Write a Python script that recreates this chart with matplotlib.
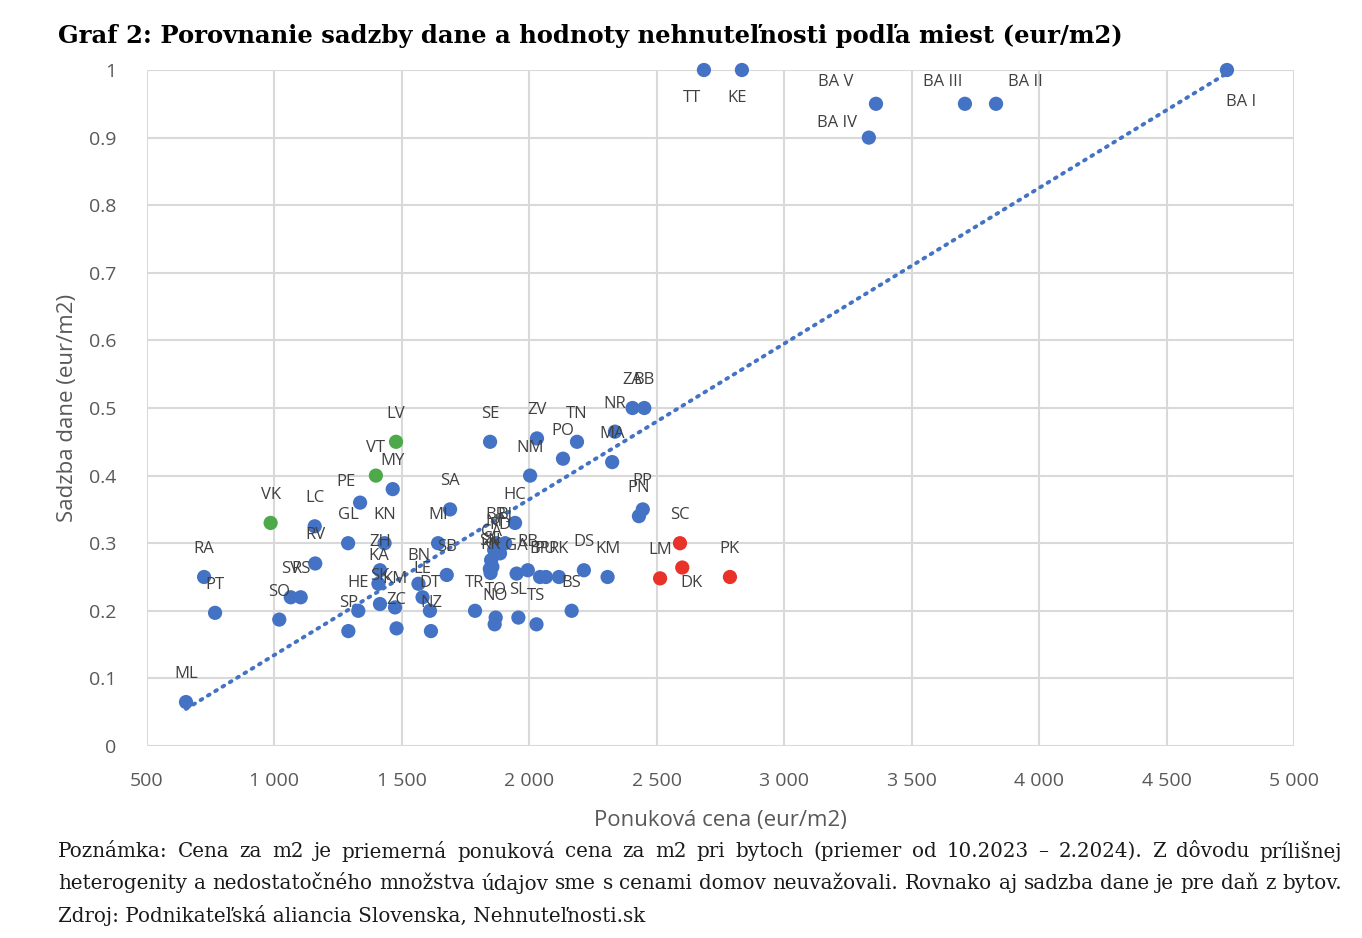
import numpy as np
import matplotlib.pyplot as plt
from matplotlib.ticker import FuncFormatter, MultipleLocator

# mestá: ponuková cena (eur/m2) a sadzba dane (eur/m2)
mesta = ['ML', 'RA', 'PT', 'VK', 'SO', 'SV', 'RS', 'LC', 'RV', 'GL',
         'PE', 'VT', 'LV', 'MY', 'KN', 'ZH', 'KA', 'SK', 'KM', 'HE',
         'SP', 'ZC', 'BN', 'LE', 'DT', 'NZ', 'MI', 'SA', 'SB', 'TR',
         'TO', 'NO', 'SL', 'TS', 'BS', 'GA', 'RB', 'BP', 'PU', 'RK',
         'DS', 'KM', 'LM', 'SC', 'DK', 'PK', 'HC', 'BR', 'BJ', 'NI',
         'PD', 'CA', 'SL', 'SN', 'KK', 'SE', 'ZV', 'TN', 'PO', 'NM',
         'NR', 'MA', 'ZA', 'BB', 'PP', 'PN', 'TT', 'KE', 'BA V', 'BA IV',
         'BA III', 'BA II', 'BA I']
cena = [653, 724, 767, 985, 1019, 1064, 1103, 1158, 1160, 1289,
        1336, 1398, 1477, 1464, 1432, 1414, 1408, 1414, 1473, 1329,
        1290, 1479, 1565, 1581, 1610, 1614, 1642, 1689, 1676, 1787,
        1868, 1864, 1957, 2028, 2166, 1950, 1994, 2042, 2065, 2116,
        2214, 2307, 2513, 2591, 2600, 2787, 1944, 1870, 1905, 1862,
        1885, 1850, 1855, 1845, 1848, 1846, 2030, 2187, 2132, 2003,
        2336, 2325, 2405, 2451, 2445, 2430, 2685, 2834, 3360, 3332,
        3709, 3831, 4737]
sadzba = [0.065, 0.25, 0.197, 0.33, 0.187, 0.22, 0.22, 0.325, 0.27, 0.30,
          0.36, 0.40, 0.45, 0.38, 0.30, 0.26, 0.24, 0.21, 0.205, 0.20,
          0.17, 0.174, 0.24, 0.22, 0.20, 0.17, 0.30, 0.35, 0.253, 0.20,
          0.19, 0.18, 0.19, 0.18, 0.20, 0.255, 0.26, 0.25, 0.25, 0.25,
          0.26, 0.25, 0.248, 0.30, 0.264, 0.25, 0.33, 0.30, 0.30, 0.29,
          0.285, 0.275, 0.265, 0.262, 0.256, 0.45, 0.455, 0.45, 0.425, 0.40,
          0.465, 0.42, 0.50, 0.50, 0.35, 0.34, 1.0, 1.0, 0.95, 0.90,
          0.95, 0.95, 1.0]
zelene = ['VK', 'VT', 'LV']
cervene = ['LM', 'SC', 'DK', 'PK']

MODRA = '#4472C4'
ZELENA = '#4EA94B'
CERVENA = '#E8322A'

# posuny popiskov v pixeloch (dx, dy), ostatné sú nad bodom
posuny = {'PE': (-14, 21), 'DK': (9, -15), 'TT': (-12, -28), 'KE': (-5, -28),
          'BA V': (-40, 22), 'BA IV': (-32, 15), 'BA III': (-22, 22),
          'BA II': (29, 22), 'BA I': (14, -32)}

fig = plt.figure(figsize=(13.62, 9.38), dpi=100)
ax = fig.add_axes([147 / 1362, 1 - 746 / 938, (1294 - 147) / 1362, (746 - 70) / 938])

x = np.array(cena, dtype=float)
y = np.array(sadzba)
farby = [ZELENA if m in zelene else CERVENA if m in cervene else MODRA for m in mesta]

# lineárny trend
k, q = np.polyfit(x, y, 1)
xt = np.array([x.min(), x.max()])
ax.plot(xt, k * xt + q, linestyle=(0, (0.5, 1.7)), color=MODRA, linewidth=2.8,
        dash_capstyle='round', zorder=2)

ax.scatter(x, y, s=105, c=farby, edgecolors='none', zorder=3, clip_on=False)

for m, xi, yi in zip(mesta, x, y):
    dx, dy = posuny.get(m, (0, 28))
    ax.annotate(m, (xi, yi), xytext=(dx * 0.72, dy * 0.72), textcoords='offset points',
                ha='center', va='center', fontsize=12, color='#404040',
                family='Open Sans', zorder=4)

ax.set_xlim(500, 5000)
ax.set_ylim(0, 1)
ax.xaxis.set_major_locator(MultipleLocator(500))
ax.yaxis.set_major_locator(MultipleLocator(0.1))
ax.xaxis.set_major_formatter(FuncFormatter(lambda v, p: f'{int(v):,}'.replace(',', ' ')))
ax.yaxis.set_major_formatter(FuncFormatter(lambda v, p: '0' if v == 0 else ('1' if v == 1 else f'{v:.1f}')))
ax.grid(True, color='#D9D9D9', linewidth=1.5)
ax.set_axisbelow(True)
for s in ax.spines.values():
    s.set_visible(False)
ax.tick_params(length=0, labelsize=14, labelcolor='#595959', pad=22)
for t in ax.get_xticklabels() + ax.get_yticklabels():
    t.set_family('Open Sans')
ax.tick_params(axis='x', pad=19)

ax.set_xlabel('Ponuková cena (eur/m2)', fontsize=16, color='#595959', family='Open Sans', labelpad=14)
ax.set_ylabel('Sadzba dane (eur/m2)', fontsize=16, color='#595959', family='Open Sans', labelpad=8)

fig.text(58 / 1362, 1 - 36 / 938,
         'Graf 2: Porovnanie sadzby dane a hodnoty nehnuteľnosti podľa miest (eur/m2)',
         ha='left', va='center', fontsize=17.5, fontweight='bold', family='DejaVu Serif',
         color='black')

poznamka = [
    'Poznámka: Cena za m2 je priemerná ponuková cena za m2 pri bytoch (priemer od 10.2023 – 2.2024). Z dôvodu prílišnej',
    'heterogenity a nedostatočného množstva údajov sme s cenami domov neuvažovali. Rovnako aj sadzba dane je pre daň z bytov.',
    'Zdroj: Podnikateľská aliancia Slovenska, Nehnuteľnosti.sk',
]
renderer = fig.canvas.get_renderer()
lavy, pravy = 58, 1342
for i, riadok in enumerate(poznamka):
    ypos = 1 - (851 + i * 32) / 938
    slova = riadok.split(' ')
    if i == len(poznamka) - 1:
        fig.text(lavy / 1362, ypos, riadok, ha='left', va='center',
                 fontsize=14.3, family='DejaVu Serif', color='#1a1a1a')
        continue
    # zarovnanie do bloku
    texty = [fig.text(0, ypos, s, ha='left', va='center', fontsize=14.3,
                      family='DejaVu Serif', color='#1a1a1a') for s in slova]
    sirky = [t.get_window_extent(renderer).width for t in texty]
    medzera = (pravy - lavy - sum(sirky)) / (len(slova) - 1)
    xpos = lavy
    for t, w in zip(texty, sirky):
        t.set_x(xpos / 1362)
        xpos += w + medzera

fig.savefig('out.png', dpi=100)
